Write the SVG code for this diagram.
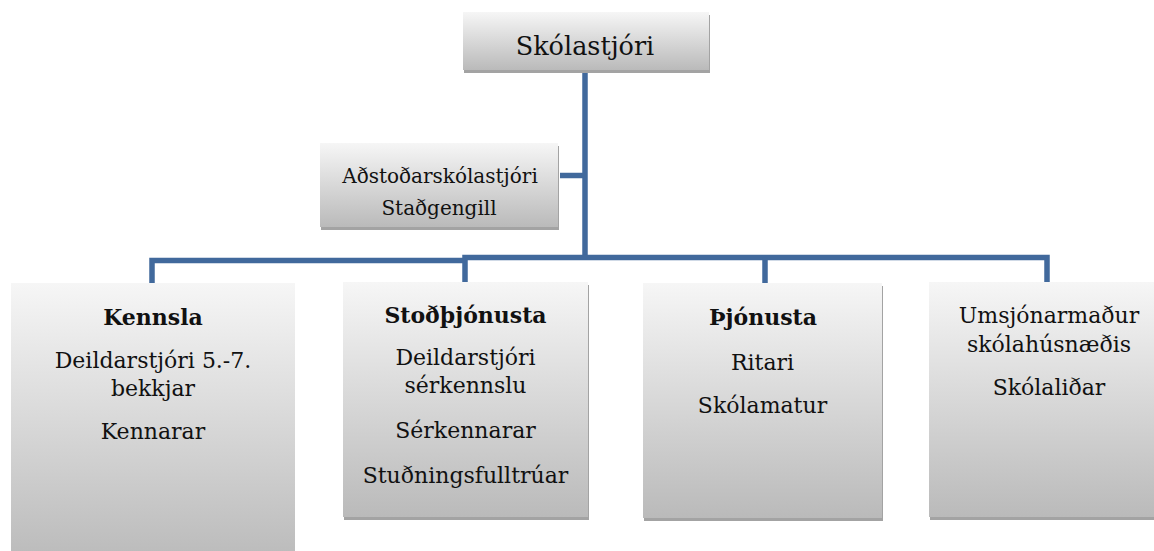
<svg xmlns="http://www.w3.org/2000/svg" width="1154" height="551" viewBox="0 0 1154 551">
<defs>
<linearGradient id="g" x1="0" y1="0" x2="0" y2="1">
<stop offset="0" stop-color="#f6f6f6"/>
<stop offset="1" stop-color="#bababa"/>
</linearGradient>
<style>
.box{fill:url(#g);}
.sh{fill:#a3a3a3;}
.t{font-family:"DejaVu Serif","Liberation Serif",serif;font-size:22px;fill:#111;text-anchor:middle;}
.b{font-weight:bold;}
.c{fill:none;stroke:#41699c;stroke-width:5.5;}
</style>
</defs>
<rect width="1154" height="551" fill="#ffffff"/>
<g id="connectors">
<path class="c" d="M585,72 V260"/>
<path class="c" d="M560,175.5 H585"/>
<path class="c" d="M152,284 V260.5 H465"/>
<path class="c" d="M465,283 V257.5 H1047 V283"/>
<path class="c" d="M765,257.5 V284"/>
</g>
<g id="skolastjori">
<rect class="sh" x="464" y="15" width="246" height="58"/>
<rect class="box" x="463" y="12" width="246" height="58"/>
<text class="t" x="585" y="55" style="font-size:25.5px">Skólastjóri</text>
</g>
<g id="adstodarskolastjori">
<rect class="sh" x="321" y="146" width="238" height="84"/>
<rect class="box" x="320" y="143" width="238" height="84"/>
<text class="t" x="440" y="183" style="font-size:20px">Aðstoðarskólastjóri</text>
<text class="t" x="439" y="215" style="font-size:20px">Staðgengill</text>
</g>
<g id="kennsla">
<rect class="box" x="11" y="283" width="284" height="280"/>
<text class="t b" x="153" y="325">Kennsla</text>
<text class="t" x="153" y="368">Deildarstjóri 5.-7.</text>
<text class="t" x="153" y="396">bekkjar</text>
<text class="t" x="153" y="439">Kennarar</text>
</g>
<g id="stodthjonusta">
<rect class="sh" x="344" y="285" width="245" height="235"/>
<rect class="box" x="343" y="282" width="245" height="235"/>
<text class="t b" x="465.5" y="323">Stoðþjónusta</text>
<text class="t" x="465.5" y="365">Deildarstjóri</text>
<text class="t" x="465.5" y="393">sérkennslu</text>
<text class="t" x="465.5" y="438">Sérkennarar</text>
<text class="t" x="465.5" y="483">Stuðningsfulltrúar</text>
</g>
<g id="thjonusta">
<rect class="sh" x="644" y="286" width="239" height="235"/>
<rect class="box" x="643" y="283" width="239" height="235"/>
<text class="t b" x="763" y="325">Þjónusta</text>
<text class="t" x="762.5" y="370">Ritari</text>
<text class="t" x="762.5" y="413">Skólamatur</text>
</g>
<g id="umsjon">
<rect class="sh" x="930" y="285" width="238" height="235"/>
<rect class="box" x="929" y="282" width="238" height="235"/>
<text class="t" x="1049" y="323">Umsjónarmaður</text>
<text class="t" x="1049" y="352">skólahúsnæðis</text>
<text class="t" x="1049" y="395">Skólaliðar</text>
</g>
</svg>
